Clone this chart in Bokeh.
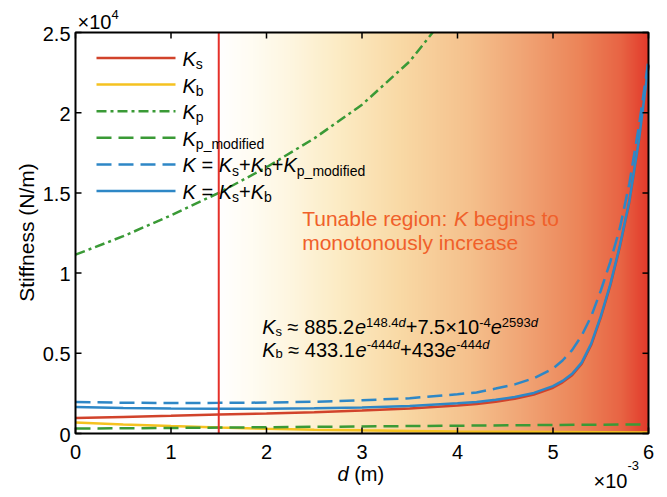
import numpy as np
from bokeh.plotting import figure
from bokeh.models import Range1d, Label, Arrow
from bokeh.core.properties import value
from bokeh.embed import file_html
from bokeh.resources import INLINE

# ---------------- data (d in units of 1e-3 m, stiffness in N/m) ----------------
d_Ks = [0, 0.5, 1.0, 1.5, 2.0, 2.5, 3.0, 3.5, 4.0, 4.2, 4.4, 4.6, 4.8, 5.0, 5.1, 5.2, 5.3, 5.4,
        5.5, 5.6, 5.7, 5.8, 5.9, 6.0]
Ks = [960, 1030, 1100, 1180, 1250, 1330, 1430, 1560, 1750, 1840, 1985, 2170, 2430, 2855, 3190,
      3630, 4335, 5515, 7220, 9220, 11620, 14420, 18220, 22930]

d_Kb = [0, 0.5, 1.0, 1.5, 2.0, 2.5, 3.0, 3.5, 4.0, 4.5, 5.0, 5.5, 6.0]
Kb = [690, 560, 460, 370, 300, 240, 195, 160, 130, 110, 95, 80, 70]

d_Kp = [0, 0.5, 1.0, 1.5, 2.0, 2.5, 3.0, 3.5, 3.74]
Kp = [11150, 12300, 13600, 15000, 16600, 18400, 20500, 23200, 25000]

d_Kpm = [0, 1, 2, 3, 4, 5, 6]
Kp_mod = [310, 345, 390, 440, 485, 530, 565]

d_K = [0, 0.5, 1.0, 1.5, 2.0, 2.5, 3.0, 3.5, 4.0, 4.2, 4.4, 4.6, 4.8, 5.0, 5.1, 5.2, 5.3, 5.4,
       5.5, 5.6, 5.7, 5.8, 5.9, 6.0]
K_all = [1960, 1920, 1900, 1910, 1930, 1980, 2070, 2200, 2450, 2560, 2800, 3060, 3450, 4050,
         4550, 5200, 6100, 7300, 8900, 10700, 12800, 15600, 19200, 23300]
K_sb = [1650, 1590, 1560, 1550, 1550, 1570, 1625, 1720, 1880, 1960, 2100, 2280, 2530, 2950,
        3280, 3720, 4420, 5600, 7300, 9300, 11700, 14500, 18300, 23000]

region_start = 1.5      # start of the tunable region (1e-3 m)
x_min, x_max = 0, 6
y_min, y_max = 0, 2.5
x_ticks = [0, 1, 2, 3, 4, 5, 6]
x_tick_labels = ["0", "1", "2", "3", "4", "5", "6"]
y_ticks = [0, 0.5, 1, 1.5, 2, 2.5]
y_tick_labels = ["0", "0.5", "1", "1.5", "2", "2.5"]
y_scale = 1e4

# ---------------- layout / styling ----------------
W, H = 667, 497
PX_L, PX_R, PY_T, PY_B = 75, 648, 32, 433     # plot box in canvas pixels
sx = (PX_R - PX_L) / (x_max - x_min)
sy = (PY_B - PY_T) / (y_max - y_min)

FONT = "Liberation Sans"
MID = 0.3465          # baseline -> em-box middle, fraction of font size
C_RED = "#D1432B"
C_YEL = "#F5C220"
C_GRN = "#3A9A36"
C_BLU = "#2E87C6"
C_VLINE = "#E5302A"
C_TXT = "#F0602A"
LW = 2.5

p = figure(width=W, height=H, title=None,
           x_range=Range1d(x_min - PX_L / sx, x_min + (W - PX_L) / sx),
           y_range=Range1d(y_min - (H - PY_B) / sy, y_min + PY_B / sy),
           x_axis_type=None, y_axis_type=None,
           output_backend="svg", toolbar_location=None, min_border=0)
p.grid.visible = False
p.outline_line_color = None
p.background_fill_color = "white"
p.border_fill_color = "white"

# background gradient of the tunable region
grad_pos = [0.0, 0.08, 0.167, 0.284, 0.423, 0.586, 0.702, 0.842, 0.935, 1.0]
grad_col = ["#FFFFFF", "#FFFCF2", "#FEF6E0", "#FCEBC3", "#F9D9A5", "#F5C08C", "#F1A676",
            "#EC8458", "#E86444", "#E2392B"]
N = 430
t = np.linspace(0, 1, N)
rgb = np.array([[int(c[i:i + 2], 16) for i in (1, 3, 5)] for c in grad_col], dtype=float)
img = np.zeros((1, N), dtype=np.uint32)
view = img.view(dtype=np.uint8).reshape((1, N, 4))
for k in range(3):
    view[0, :, k] = np.interp(t, grad_pos, rgb[:, k]).astype(np.uint8)
view[0, :, 3] = 255
p.image_rgba(image=[img], x=region_start, y=y_min, dw=x_max - region_start, dh=y_max - y_min)

# curves
ys = lambda arr: [v / y_scale for v in arr]
p.line(d_Ks, ys(Ks), line_color=C_RED, line_width=LW)
p.line(d_Kb, ys(Kb), line_color=C_YEL, line_width=LW)
p.line(d_Kp, ys(Kp), line_color=C_GRN, line_width=LW, line_dash="10 4 3 4")
p.line(d_Kpm, ys(Kp_mod), line_color=C_GRN, line_width=LW, line_dash="15 7")
p.line(d_K, ys(K_all), line_color=C_BLU, line_width=LW, line_dash="15 7")
p.line(d_K, ys(K_sb), line_color=C_BLU, line_width=LW)

# tunable-region boundary
p.segment(x0=[region_start], y0=[y_min], x1=[region_start], y1=[y_max],
          line_color=C_VLINE, line_width=2)

# plot box, inward ticks and tick labels
p.quad(left=[x_min], right=[x_max], bottom=[y_min], top=[y_max],
       fill_color=None, line_color="black", line_width=2)
nx, ny = len(x_ticks), len(y_ticks)
TK = dict(length=6, length_units="screen", line_color="black", line_width=1.5)
p.ray(x=x_ticks, y=[y_min] * nx, angle=np.pi / 2, **TK)
p.ray(x=x_ticks, y=[y_max] * nx, angle=-np.pi / 2, **TK)
p.ray(x=[x_min] * ny, y=y_ticks, angle=0, **TK)
p.ray(x=[x_max] * ny, y=y_ticks, angle=np.pi, **TK)
p.text(x=x_ticks, y=[y_min] * nx, text=x_tick_labels, text_align="center",
       text_baseline="middle", y_offset=18, text_font=value(FONT),
       text_font_size="20px", text_color="black")
p.text(x=[x_min] * ny, y=y_ticks, text=y_tick_labels, text_align="right",
       text_baseline="middle", x_offset=-5, y_offset=1, text_font=value(FONT),
       text_font_size="20px", text_color="black")

# ---------------- rich text helper (canvas pixel coords, given text baseline) ----------------
WID = {c: 556 for c in "0123456789"}
WID.update({".": 278, "+": 584, "-": 333, "×": 584, "≈": 584, " ": 278, "K": 667, "s": 500,
            "b": 556, "p": 556, "e": 556, "d": 556, "_": 556, "m": 833, "o": 556, "i": 222,
            "f": 278, "l": 222, "=": 584, "(": 333, ")": 333, "T": 611, "u": 556, "n": 556,
            "a": 556, "r": 333, "g": 556, ":": 278, "t": 278, "c": 500, "y": 500})


def twidth(txt, size):
    return sum(WID.get(ch, 556) for ch in txt) * size / 1000.0


def rich(runs, x, yb, color="black"):
    for txt, size, italic, dy in runs:
        core = txt.strip(" ")
        x += twidth(txt[:len(txt) - len(txt.lstrip(" "))], size)
        p.add_layout(Label(x=x, y=H - yb + dy + MID * size, x_units="screen", y_units="screen",
                           text=core, text_font=FONT, text_font_size=f"{size}px",
                           text_font_style="italic" if italic else "normal",
                           text_color=color, text_align="left", text_baseline="middle"))
        x += twidth(core, size)
        x += twidth(txt[len(txt.rstrip(" ")):], size)


# ---------------- legend (manual, for subscripts) ----------------
leg_styles = [(C_RED, None), (C_YEL, None), (C_GRN, "10 4 3 4"), (C_GRN, "15 7"),
              (C_BLU, "15 7"), (C_BLU, None)]
S, B = 20, 14
leg_texts = [
    [("K", S, True, 0), ("s", B, False, -3)],
    [("K", S, True, 0), ("b", B, False, -3)],
    [("K", S, True, 0), ("p", B, False, -3)],
    [("K", S, True, 0), ("p_modified", B, False, -3)],
    [("K", S, True, 0), (" = ", S, False, 0), ("K", S, True, 0), ("s", B, False, -3),
     ("+", S, False, 0), ("K", S, True, 0), ("b", B, False, -3), ("+", S, False, 0),
     ("K", S, True, 0), ("p_modified", B, False, -3)],
    [("K", S, True, 0), (" = ", S, False, 0), ("K", S, True, 0), ("s", B, False, -3),
     ("+", S, False, 0), ("K", S, True, 0), ("b", B, False, -3)],
]
for i, ((col, dash), runs) in enumerate(zip(leg_styles, leg_texts)):
    yc = 57.5 + 26.6 * i
    kw = dict(line_color=col, line_width=LW)
    if dash:
        kw["line_dash"] = dash
    p.add_layout(Arrow(x_start=96, y_start=H - yc, x_end=175, y_end=H - yc,
                       start_units="screen", end_units="screen", start=None, end=None, **kw))
    rich(runs, 182, yc + 8)

# ---------------- annotations ----------------
rich([("Tunable region: ", 21, False, 0), ("K", 21, True, 0), (" begins to", 21, False, 0)],
     301.7, 225, C_TXT)
rich([("monotonously increase", 21, False, 0)], 301.7, 249, C_TXT)

F, U = 20, 13
rich([("K", F, True, 0), ("s", U, False, -2), (" ≈ 885.2", F, False, 0), ("e", F, True, 0),
      ("148.4", U, False, 7), ("d", U, True, 7), ("+7.5×10", F, False, 0), ("-4", U, False, 7),
      ("e", F, True, 0), ("2593", U, False, 7), ("d", U, True, 7)], 261.7, 333.5)
rich([("K", F, True, 0), ("b", U, False, -2), (" ≈ 433.1", F, False, 0), ("e", F, True, 0),
      ("-444", U, False, 7), ("d", U, True, 7), ("+433", F, False, 0), ("e", F, True, 0),
      ("-444", U, False, 7), ("d", U, True, 7)], 261.7, 356)

# axis titles & multipliers
p.add_layout(Label(x=26, y=H - 232, x_units="screen", y_units="screen", text="Stiffness (N/m)",
                   angle=np.pi / 2, text_font=FONT, text_font_size="21px",
                   text_align="center", text_baseline="middle", text_color="black"))
rich([("d", 20, True, 0), (" (m)", 20, False, 0)], 337, 480)
rich([("×10", 20, False, 0), ("4", 13, False, 10)], 77, 28.3)
rich([("×10", 20, False, 0), ("-3", 13, False, 17)], 593, 487)

open("out.html", "w").write(file_html(p, INLINE))
